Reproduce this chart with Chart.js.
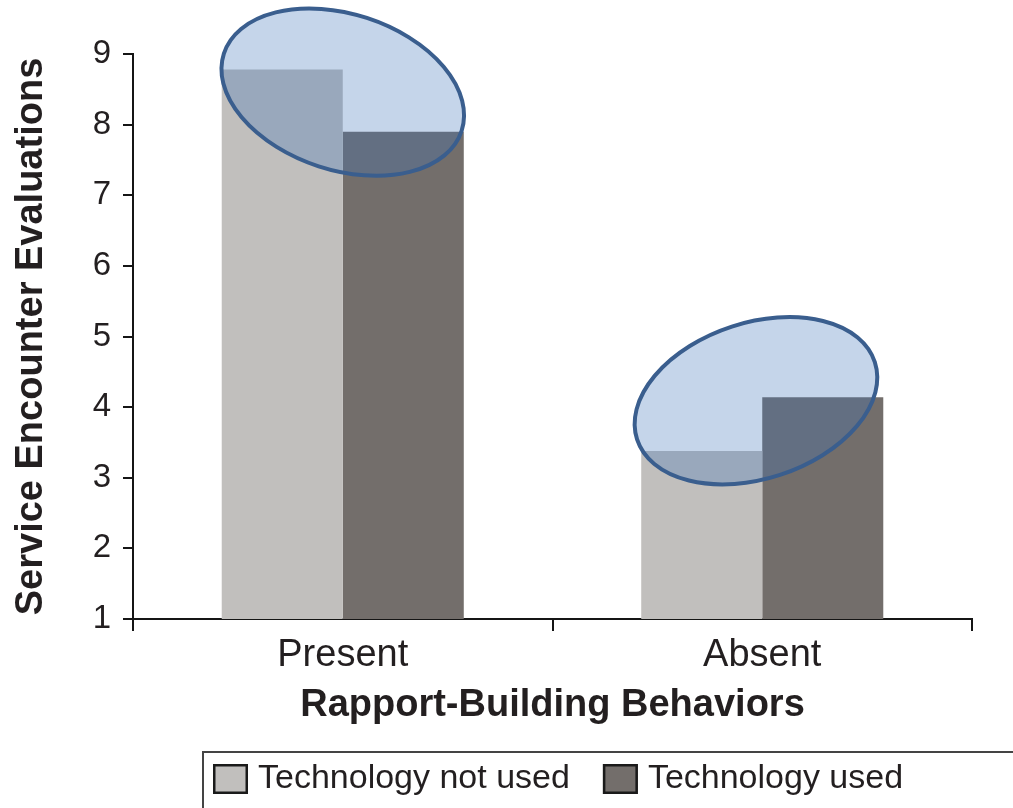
<!DOCTYPE html>
<html><head><meta charset="utf-8">
<script src="https://cdn.jsdelivr.net/npm/chart.js@4.4.1/dist/chart.umd.min.js"></script>
<style>html,body{margin:0;padding:0;background:#fff;overflow:hidden}#wrap{width:1013px;height:808px;position:relative}</style>
</head><body><div id="wrap"><canvas id="c"></canvas></div>
<script>
const categories = ['Present', 'Absent'];
const seriesNames = ['Technology not used', 'Technology used'];
const notUsedValues = [8.78, 3.38];
const usedValues = [7.9, 4.14];
const yTickValues = [1, 2, 3, 4, 5, 6, 7, 8, 9];
const xAxisTitle = 'Rapport-Building Behaviors';
const yAxisTitle = 'Service Encounter Evaluations';

const FONT = "'Liberation Sans', Arial, Helvetica, sans-serif";
const TXT = '#231f20';
const AXIS = '#151515';

const ellipsePlugin = {
  id: 'ellipses',
  afterDatasetsDraw(chart, args, o) {
    const {ctx, scales: {x, y}} = chart;
    o.items.forEach(e => {
      const cx = x.getPixelForValue(e.cat), cy = y.getPixelForValue(e.value);
      ctx.save();
      ctx.beginPath();
      ctx.ellipse(cx, cy, e.rx, e.ry, e.rot * Math.PI / 180, 0, Math.PI * 2);
      ctx.fillStyle = o.fill; ctx.fill();
      ctx.lineWidth = o.lineWidth; ctx.strokeStyle = o.stroke; ctx.stroke();
      ctx.restore();
    });
  }
};

const boxLegendPlugin = {
  id: 'boxLegend',
  afterDraw(chart, args, o) {
    const ctx = chart.ctx;
    ctx.save();
    ctx.strokeStyle = o.frameColor; ctx.lineWidth = o.frameWidth;
    ctx.strokeRect(o.left, o.top, chart.width - o.left + 20, 200);
    ctx.font = o.fontSize + 'px ' + FONT;
    ctx.textBaseline = 'middle'; ctx.textAlign = 'left';
    let x = o.left + o.padLeft;
    chart.data.datasets.forEach(ds => {
      ctx.fillStyle = ds.backgroundColor;
      ctx.fillRect(x, o.boxTop, o.boxW, o.boxH);
      ctx.lineWidth = 2.5; ctx.strokeStyle = '#1a1a1a';
      ctx.strokeRect(x + 1.25, o.boxTop + 1.25, o.boxW - 2.5, o.boxH - 2.5);
      ctx.fillStyle = TXT;
      ctx.fillText(ds.label, x + o.boxW + o.gap, o.textY);
      x += o.boxW + o.gap + ctx.measureText(ds.label).width + o.itemGap;
    });
    ctx.restore();
  }
};

new Chart(document.getElementById('c'), {
  type: 'bar',
  data: {
    labels: categories,
    datasets: [
      {label: seriesNames[0], data: notUsedValues, backgroundColor: '#c1bfbd', categoryPercentage: 0.577, barPercentage: 1},
      {label: seriesNames[1], data: usedValues, backgroundColor: '#736e6b', categoryPercentage: 0.577, barPercentage: 1}
    ]
  },
  plugins: [ellipsePlugin, boxLegendPlugin],
  options: {
    responsive: true, maintainAspectRatio: false, animation: false,
    layout: {padding: {top: 54, right: 41, left: 0, bottom: 0}},
    plugins: {
      legend: {display: false}, tooltip: {enabled: false},
      ellipses: {
        fill: 'rgba(62,115,185,0.3)', stroke: '#3a5e8e', lineWidth: 4,
        items: [
          {cat: 0, value: 8.46, rx: 125, ry: 78, rot: 18},
          {cat: 0.985, value: 4.09, rx: 125, ry: 78, rot: -18}
        ]
      },
      boxLegend: {left: 203, top: 752, frameColor: '#444', frameWidth: 2, padLeft: 10, boxTop: 764, boxW: 35, boxH: 30, gap: 10, itemGap: 33, textY: 779, fontSize: 34}
    },
    scales: {
      x: {
        offset: true,
        grid: {offset: true, drawOnChartArea: false, tickLength: 12, color: AXIS, lineWidth: 2},
        border: {color: AXIS, width: 2},
        ticks: {font: {size: 38, family: FONT}, color: TXT, padding: 2},
        title: {display: true, text: xAxisTitle, font: {size: 38, weight: 'bold', family: FONT}, color: TXT, padding: {top: 0, bottom: 80}},
        afterFit: s => { s.height = 189; }
      },
      y: {
        min: 1, max: 9,
        afterBuildTicks: s => { s.ticks = yTickValues.map(v => ({value: v})); },
        grid: {drawOnChartArea: false, tickLength: 10, color: AXIS, lineWidth: 2},
        border: {color: AXIS, width: 2},
        ticks: {font: {size: 33, family: FONT}, color: TXT, padding: 12},
        title: {display: true, text: yAxisTitle, font: {size: 38, weight: 'bold', family: FONT}, color: TXT, padding: {top: 9, bottom: 0}},
        afterFit: s => { s.width = 133; }
      }
    }
  }
});
</script>
</body></html>
